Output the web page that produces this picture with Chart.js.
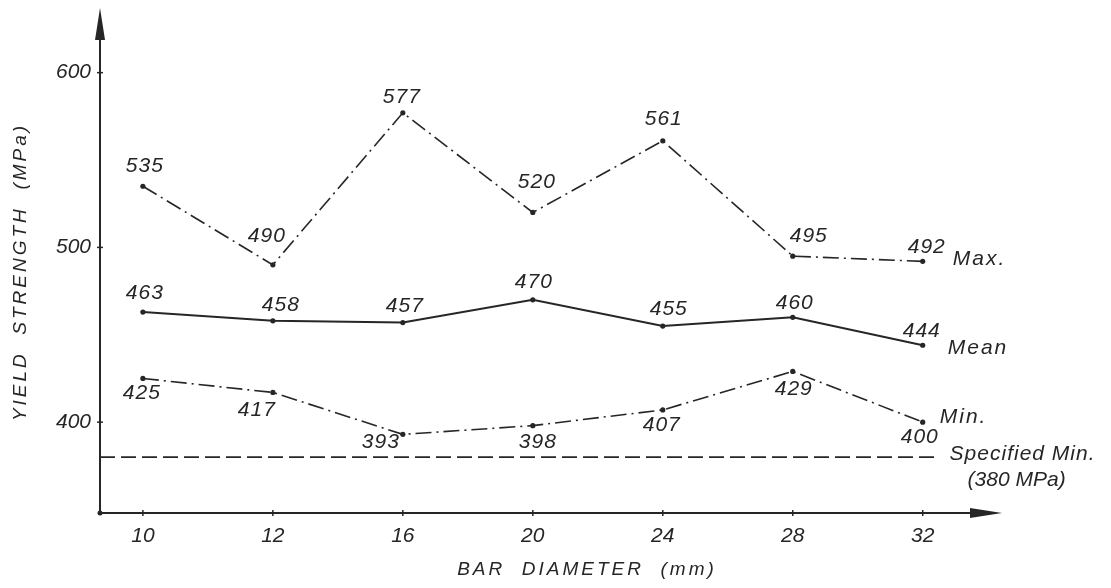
<!DOCTYPE html>
<html>
<head>
<meta charset="utf-8">
<script src="https://cdn.jsdelivr.net/npm/chart.js@4"></script>
<style>
  html, body { margin: 0; padding: 0; background: #ffffff; }
  #wrap { width: 1111px; height: 588px; }
</style>
</head>
<body>
<div id="wrap"><canvas id="chart" width="1111" height="588"></canvas></div>
<script>
// Yield strength of reinforcing bars by diameter
const diameters = ['10', '12', '16', '20', '24', '28', '32'];
const maxValues = [535, 490, 577, 520, 561, 495, 492];
const meanValues = [463, 458, 457, 470, 455, 460, 444];
const minValues = [425, 417, 393, 398, 407, 429, 400];
const specifiedMin = 380;
const yTickValues = [400, 500, 600];

// Where each value label sits relative to its point (px)
const maxLabelOffsets = [[2, -20], [-6, -29], [-1, -16], [4, -30], [1, -22], [16, -20], [4, -14]];
const meanLabelOffsets = [[2, -19], [8, -16], [2, -16], [1, -18], [6, -17], [2, -14], [-1, -14]];
const minLabelOffsets = [[-1, 15], [-16, 18], [-22, 8], [5, 17], [-1, 15], [1, 18], [-3, 15]];

const INK = '#262626';
const FONT = "'Liberation Sans', 'DejaVu Sans', sans-serif";
const X_MIN = -0.33, X_MAX = 6.61;
const SPEC_LINE_END = 6.13;

const toPoints = arr => arr.map((v, i) => ({ x: i, y: v }));

const dashDot = [16, 5, 2, 5];

function txt(ctx, s, x, y, size, align, spacing) {
  ctx.save();
  ctx.font = 'italic ' + size + 'px ' + FONT;
  ctx.fillStyle = INK;
  ctx.textAlign = align || 'center';
  ctx.textBaseline = 'middle';
  ctx.letterSpacing = (spacing || 0) + 'px';
  ctx.fillText(s, x, y);
  ctx.restore();
}

const drawingPlugin = {
  id: 'drawing',
  beforeDatasetsDraw(chart) {
    const { ctx, chartArea: a, scales: { x, y } } = chart;
    const x0 = a.left, y0 = a.bottom;
    ctx.save();
    ctx.strokeStyle = INK;
    ctx.fillStyle = INK;
    ctx.lineWidth = 2;
    // vertical axis with arrow
    ctx.beginPath();
    ctx.moveTo(x0, y0);
    ctx.lineTo(x0, a.top + 20);
    ctx.stroke();
    ctx.beginPath();
    ctx.moveTo(x0, a.top);
    ctx.lineTo(x0 + 5, a.top + 32);
    ctx.lineTo(x0 - 5, a.top + 32);
    ctx.closePath();
    ctx.fill();
    // horizontal axis with arrow
    ctx.beginPath();
    ctx.moveTo(x0, y0);
    ctx.lineTo(a.right - 20, y0);
    ctx.stroke();
    ctx.beginPath();
    ctx.moveTo(a.right, y0);
    ctx.lineTo(a.right - 32, y0 - 5);
    ctx.lineTo(a.right - 32, y0 + 5);
    ctx.closePath();
    ctx.fill();
    // small tick marks
    ctx.lineWidth = 1.5;
    yTickValues.forEach(v => {
      const py = y.getPixelForValue(v);
      ctx.beginPath();
      ctx.moveTo(x0 - 3, py);
      ctx.lineTo(x0 + 3, py);
      ctx.stroke();
    });
    diameters.forEach((d, i) => {
      const px = x.getPixelForValue(i);
      ctx.beginPath();
      ctx.moveTo(px, y0 - 3);
      ctx.lineTo(px, y0 + 3);
      ctx.stroke();
    });
    ctx.beginPath();
    ctx.arc(x0, y0, 2.5, 0, Math.PI * 2);
    ctx.fill();
    ctx.restore();
  },
  afterDatasetsDraw(chart) {
    const { ctx, scales: { x, y } } = chart;
    const labelSeries = [
      [maxValues, maxLabelOffsets],
      [meanValues, meanLabelOffsets],
      [minValues, minLabelOffsets]
    ];
    labelSeries.forEach(([vals, offs]) => {
      vals.forEach((v, i) => {
        const px = x.getPixelForValue(i) + offs[i][0];
        const py = y.getPixelForValue(v) + offs[i][1];
        txt(ctx, String(v), px, py, 21, 'center', 1);
      });
    });
    // series names at the right-hand end of each line
    const last = diameters.length - 1;
    const lx = x.getPixelForValue(last);
    txt(ctx, 'Max.', lx + 30, y.getPixelForValue(maxValues[last]) - 2, 21, 'left', 2);
    txt(ctx, 'Mean', lx + 25, y.getPixelForValue(meanValues[last]) + 3, 21, 'left', 2);
    txt(ctx, 'Min.', lx + 17, y.getPixelForValue(minValues[last]) - 5, 21, 'left', 2);
    const sx = x.getPixelForValue(SPEC_LINE_END);
    const sy = y.getPixelForValue(specifiedMin);
    txt(ctx, 'Specified Min.', sx + 10, sy - 3, 21, 'left', 1);
    txt(ctx, '(380 MPa)', sx + 28, sy + 23, 21, 'left', 0);
    // axis titles
    txt(ctx, 'BAR  DIAMETER  (mm)', 587, 570, 19, 'center', 3);
    ctx.save();
    ctx.translate(21, 272);
    ctx.rotate(-Math.PI / 2);
    txt(ctx, 'YIELD  STRENGTH  (MPa)', 0, 0, 19, 'center', 3);
    ctx.restore();
  }
};

const lineStyle = (data, dash, width) => ({
  data,
  borderColor: INK,
  backgroundColor: INK,
  borderWidth: width,
  borderDash: dash,
  pointRadius: 2.6,
  pointBackgroundColor: INK,
  pointBorderWidth: 0,
  tension: 0,
  fill: false
});

new Chart(document.getElementById('chart'), {
  type: 'line',
  data: {
    datasets: [
      lineStyle(toPoints(maxValues), dashDot, 1.6),
      lineStyle(toPoints(meanValues), [], 2),
      lineStyle(toPoints(minValues), dashDot, 1.6),
      Object.assign(lineStyle([{ x: X_MIN, y: specifiedMin }, { x: SPEC_LINE_END, y: specifiedMin }], [15, 6], 1.6), { pointRadius: 0 })
    ]
  },
  options: {
    responsive: false,
    animation: false,
    events: [],
    layout: { padding: { top: 8, right: 109, bottom: 0, left: 0 } },
    plugins: { legend: { display: false }, tooltip: { enabled: false }, title: { display: false } },
    scales: {
      x: {
        type: 'linear',
        min: X_MIN,
        max: X_MAX,
        grid: { display: false, drawTicks: false },
        border: { display: false },
        afterBuildTicks: s => { s.ticks = diameters.map((d, i) => ({ value: i })); },
        afterFit: s => { s.height = 75; s.paddingLeft = 0; s.paddingRight = 0; },
        ticks: {
          color: INK,
          padding: 11,
          font: { family: FONT, size: 21, style: 'italic' },
          callback: v => diameters[v],
          maxRotation: 0,
          autoSkip: false
        }
      },
      y: {
        type: 'linear',
        min: 348,
        max: 637,
        grid: { display: false, drawTicks: false },
        border: { display: false },
        afterBuildTicks: s => { s.ticks = yTickValues.map(v => ({ value: v })); },
        afterFit: s => { s.width = 100; s.paddingTop = 0; s.paddingBottom = 0; },
        ticks: {
          color: INK,
          padding: 9,
          font: { family: FONT, size: 21, style: 'italic' }
        }
      }
    }
  },
  plugins: [drawingPlugin]
});
</script>
</body>
</html>
